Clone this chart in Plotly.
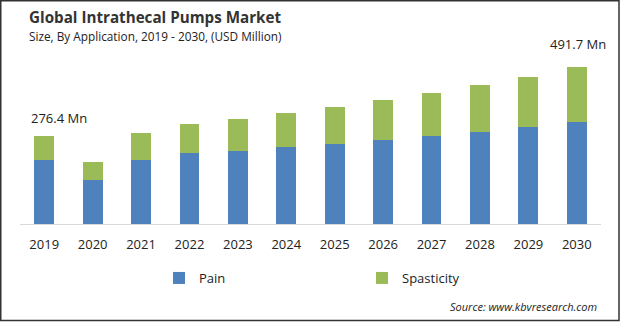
import plotly.graph_objects as go

# Market size by application (USD Million)
years = ["2019", "2020", "2021", "2022", "2023", "2024",
         "2025", "2026", "2027", "2028", "2029", "2030"]
pain = [201, 138, 201, 223, 230, 242, 252, 264, 277, 289, 305, 321]
spasticity = [75.4, 57, 85, 91, 100, 107, 116, 126, 135, 148, 157, 170.7]
totals = [round(p + s, 1) for p, s in zip(pain, spasticity)]

W, H = 620, 322
ML, MR, MT, MB = 20, 19, 33, 98
PW, PH = W - ML - MR, H - MT - MB

def px_x(x):
    return (x - ML) / PW

def px_y(y):
    return (H - MB - y) / PH

FONT = "Open Sans"
TXT = "#222222"

fig = go.Figure()
fig.add_trace(go.Bar(x=years, y=pain, name="Pain", marker_color="#4F81BD",
                     marker_line_width=0, width=0.41))
fig.add_trace(go.Bar(x=years, y=spasticity, name="Spasticity", marker_color="#9BBB59",
                     marker_line_width=0, width=0.41))

first, last = 0, len(years) - 1
annotations = [
    dict(x=first, y=totals[first], text=f"{totals[first]} Mn", showarrow=False,
         xanchor="center", yanchor="bottom", xshift=15, yshift=7,
         font=dict(family=FONT, size=13, color=TXT)),
    dict(x=last, y=totals[last], text=f"{totals[last]} Mn", showarrow=False,
         xanchor="center", yanchor="bottom", xshift=1, yshift=12,
         font=dict(family=FONT, size=13, color=TXT)),
    dict(xref="paper", yref="paper", x=px_x(27), y=px_y(17),
         text="<b>Global Intrathecal Pumps Market</b>", showarrow=False,
         xanchor="left", yanchor="middle",
         font=dict(family=FONT, size=15.2, color="#333333")),
    dict(xref="paper", yref="paper", x=px_x(27), y=px_y(36),
         text="Size, By Application, 2019 - 2030, (USD Million)", showarrow=False,
         xanchor="left", yanchor="middle",
         font=dict(family=FONT, size=11.8, color=TXT)),
    dict(xref="paper", yref="paper", x=px_x(599), y=px_y(306),
         text="<i>Source: www.kbvresearch.com</i>", showarrow=False,
         xanchor="right", yanchor="middle",
         font=dict(family=FONT, size=11, color=TXT)),
]

fig.update_layout(
    width=W, height=H,
    margin=dict(l=ML, r=MR, t=MT, b=MB),
    barmode="stack",
    plot_bgcolor="white", paper_bgcolor="white",
    showlegend=True,
    legend=dict(orientation="h", x=px_x(159), y=px_y(278), xanchor="left",
                yanchor="middle", entrywidth=158, entrywidthmode="pixels",
                itemwidth=30, font=dict(family=FONT, size=13, color=TXT),
                traceorder="normal"),
    annotations=annotations,
    shapes=[dict(type="rect", xref="paper", yref="paper",
                 x0=px_x(0.75), x1=px_x(619), y0=px_y(0.75), y1=px_y(320.5),
                 line=dict(color="#333333", width=1.5), layer="above")],
)
fig.update_xaxes(type="category", range=[-0.5, len(years) - 0.5],
                 showline=True, linecolor="#d9d9d9", linewidth=1,
                 ticks="outside", ticklen=8, tickcolor="rgba(0,0,0,0)",
                 tickfont=dict(family=FONT, size=13, color=TXT),
                 showgrid=False, fixedrange=True)
fig.update_yaxes(range=[0, 600], visible=False, showgrid=False, fixedrange=True)

fig.write_html("out.html")
